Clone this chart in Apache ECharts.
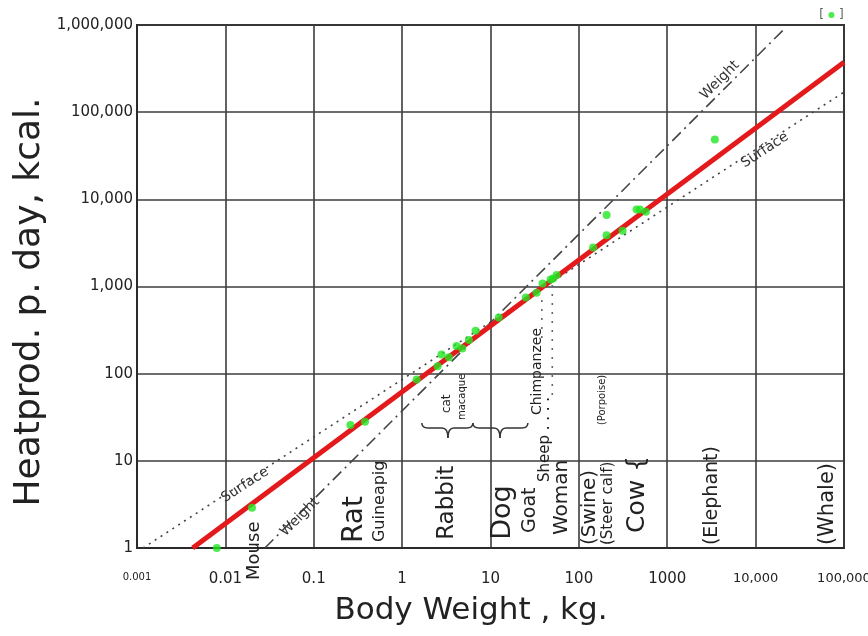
<!DOCTYPE html>
<html><head><meta charset="utf-8">
<script src="https://cdn.jsdelivr.net/npm/echarts@6/dist/echarts.min.js"></script>
<style>html,body{margin:0;padding:0;background:#fff}#c{width:868px;height:636px}</style>
</head><body><div id="c"></div>
<script>
// ---- tick labels ----
const xTickLabels = ['0.001', '0.01', '0.1', '1', '10', '100', '1000', '10,000', '100,000'];
const yTickLabels = ['1', '10', '100', '1,000', '10,000', '100,000', '1,000,000'];

// ---- measured animals (body weight kg, heat production kcal/day) ----
const animalKg   = [0.008, 0.02, 0.26, 0.38, 1.46, 2.52, 2.79, 3.38, 4.13, 4.79, 5.7, 6.78, 12.4, 25.1, 33.2, 38.8, 47.9, 51, 56, 145, 206, 206, 312, 449, 490, 573, 3455];
const animalKcal = [1, 2.9, 25.7, 28.1, 86, 122, 166, 154, 207, 195, 243, 311, 442, 750, 847, 1086, 1206, 1238, 1352, 2807, 3884, 6590, 4354, 7660, 7660, 7190, 48600];
const whaleKg   = [72100];
const whaleKcal = [1300000];

// ---- reference lines ----
const kleiberKg   = [0.00427, 100000];
const kleiberKcal = [1, 374000];
const surfaceKg   = [0.00117, 100000];
const surfaceKcal = [1, 170000];
const weightKg    = [0.028, 20400];
const weightKcal  = [1, 871000];
const leaderAKg   = [50, 50];
const leaderAKcal = [1038, 50];
const leaderBKg   = [38.1, 38.1];
const leaderBKcal = [698, 213];

// ---- species labels (text, anchor kg, anchor kcal) ----
const speciesText = ['Mouse', 'Rat', 'Guineapig', 'Rabbit', 'Dog', 'Goat', 'Sheep . . . .', 'Woman', 'Chimpanzee', 'cat', 'macaque', '(Swine)', '(Steer calf)', '(Porpoise)', 'Cow {', '(Elephant)', '(Whale)'];
const speciesKg   = [0.0211, 0.292, 0.561, 3.21, 13.8, 27.9, 41.2, 64.2, 33.5, 3.21, 4.75, 133, 213, 187, 465, 3199, 65600];
const speciesKcal = [0.43, 1.14, 1.17, 1.24, 1.24, 1.49, 5.71, 1.41, 33.5, 35.3, 29.4, 1.08, 1.08, 25.7, 1.49, 1.08, 1.08];
const speciesSize = [18, 28, 16, 23, 27, 19, 15, 20, 14, 12, 10, 20, 15, 10, 25, 19, 21];

// line labels
const lineText = ['Surface', 'Weight', 'Weight', 'Surface'];
const lineKg   = [0.0167, 0.0698, 3936, 12700];
const lineKcal = [5.28, 2.27, 232800, 36650];
const lineRef  = ['surface', 'weight', 'weight', 'surface'];

// braces (x left, dip, right in kg; top, level, dip in kcal)
const braceKg   = [[1.67, 3.30, 6.32], [6.32, 12.8, 26.5]];
const braceKcal = [27.1, 23.8, 18.3];

const FONT = 'DejaVu Sans';
const zip = (a, b) => a.map((v, i) => [v, b[i]]);

const chart = echarts.init(document.getElementById('c'), null, {renderer: 'canvas'});
const idx = v => Math.round(Math.log10(v));

chart.setOption({
  animation: false,
  backgroundColor: '#fff',
  grid: {left: 137, right: 24, top: 25, bottom: 88, show: true, borderColor: '#2a2a2a', borderWidth: 2,
         containLabel: false, outerBoundsMode: 'none'},
  xAxis: {
    type: 'log', logBase: 10, min: 0.001, max: 100000,
    axisLine: {show: true, lineStyle: {color: '#2a2a2a', width: 2}},
    axisTick: {show: false},
    splitLine: {show: true, lineStyle: {color: '#3c3c3c', width: 1.6}},
    axisLabel: {
      margin: 24, color: '#222', fontFamily: FONT, fontSize: 15,
      showMinLabel: true, showMaxLabel: true,
      formatter: v => {
        const i = idx(v) + 3;
        const t = xTickLabels[i];
        if (i === 0) return '{s|' + t + '}';
        if (i >= 7) return '{m|' + t + '}';
        return t;
      },
      rich: {s: {fontSize: 10, fontFamily: FONT, color: '#222', padding: [0, 0, 8, 0]},
             m: {fontSize: 13, fontFamily: FONT, color: '#222'}}
    }
  },
  yAxis: {
    type: 'log', logBase: 10, min: 1, max: 1000000,
    axisLine: {show: true, lineStyle: {color: '#2a2a2a', width: 2}},
    axisTick: {show: false},
    splitLine: {show: true, lineStyle: {color: '#3c3c3c', width: 1.6}},
    axisLabel: {
      margin: 4, color: '#222', fontFamily: FONT, fontSize: 15,
      showMinLabel: true, showMaxLabel: true,
      formatter: v => yTickLabels[idx(v)]
    }
  },
  series: [
    {type: 'line', name: 'surface', data: zip(surfaceKg, surfaceKcal), symbol: 'none',
     lineStyle: {color: '#444', width: 1.6, type: [2, 5]}, z: 2},
    {type: 'line', name: 'weight', data: zip(weightKg, weightKcal), symbol: 'none',
     lineStyle: {color: '#444', width: 1.6, type: [12, 5, 2, 5]}, z: 2},
    {type: 'line', data: zip(leaderAKg, leaderAKcal), symbol: 'none',
     lineStyle: {color: '#666', width: 1.6, type: [2, 7]}, z: 2},
    {type: 'line', data: zip(leaderBKg, leaderBKcal), symbol: 'none',
     lineStyle: {color: '#666', width: 1.6, type: [2, 7]}, z: 2},
    {type: 'line', name: 'kleiber', data: zip(kleiberKg, kleiberKcal), symbol: 'none',
     lineStyle: {color: '#e3191b', width: 5}, z: 3},
    {type: 'scatter', data: zip(animalKg, animalKcal), symbol: 'circle', symbolSize: 8,
     itemStyle: {color: '#22e622'}, z: 4},
    {type: 'scatter', data: zip(whaleKg, whaleKcal), symbol: 'circle', symbolSize: 6, clip: false,
     itemStyle: {color: '#22e622'}, z: 4,
     label: {show: true, position: 'inside', formatter: '[    ]', color: '#333', fontSize: 12, fontFamily: FONT}}
  ]
});

function px(kg, kcal) { return chart.convertToPixel({gridIndex: 0}, [kg, kcal]); }

const graphics = [];
speciesText.forEach((t, i) => {
  const p = px(speciesKg[i], speciesKcal[i]);
  graphics.push({type: 'text', x: p[0], y: p[1], rotation: Math.PI / 2, z: 10,
    style: {text: t, fontSize: speciesSize[i], fontFamily: FONT, fill: '#222', align: 'left', verticalAlign: 'middle'}});
});

const refLines = {surface: [surfaceKg, surfaceKcal], weight: [weightKg, weightKcal]};
lineText.forEach((t, i) => {
  const L = refLines[lineRef[i]];
  const a = px(L[0][0], L[1][0]), b = px(L[0][1], L[1][1]);
  const ang = Math.atan2(-(b[1] - a[1]), b[0] - a[0]);
  const p = px(lineKg[i], lineKcal[i]);
  graphics.push({type: 'text', x: p[0], y: p[1], rotation: ang, z: 10,
    style: {text: t, fontSize: 14, fontFamily: FONT, fill: '#333', align: 'center', verticalAlign: 'middle'}});
});

const braceStyle = {stroke: '#333', lineWidth: 1.5, fill: null};
braceKg.forEach(b => {
  const l = px(b[0], braceKcal[0]), m = px(b[1], braceKcal[1]), r = px(b[2], braceKcal[0]);
  const yT = l[1], yM = m[1], yD = px(b[1], braceKcal[2])[1];
  const c = 6;
  graphics.push({type: 'bezierCurve', z: 10, style: braceStyle,
    shape: {x1: l[0], y1: yT, cpx1: l[0], cpy1: yM, x2: l[0] + c, y2: yM}});
  graphics.push({type: 'line', z: 10, style: braceStyle,
    shape: {x1: l[0] + c, y1: yM, x2: m[0] - c, y2: yM}});
  graphics.push({type: 'bezierCurve', z: 10, style: braceStyle,
    shape: {x1: m[0] - c, y1: yM, cpx1: m[0], cpy1: yM, x2: m[0], y2: yD}});
  graphics.push({type: 'bezierCurve', z: 10, style: braceStyle,
    shape: {x1: m[0], y1: yD, cpx1: m[0], cpy1: yM, x2: m[0] + c, y2: yM}});
  graphics.push({type: 'line', z: 10, style: braceStyle,
    shape: {x1: m[0] + c, y1: yM, x2: r[0] - c, y2: yM}});
  graphics.push({type: 'bezierCurve', z: 10, style: braceStyle,
    shape: {x1: r[0] - c, y1: yM, cpx1: r[0], cpy1: yM, x2: r[0], y2: yT}});
});

graphics.push({type: 'text', x: 471, y: 611, z: 10,
  style: {text: 'Body Weight , kg.', fontSize: 31, fontFamily: FONT, fill: '#222', align: 'center', verticalAlign: 'middle'}});
graphics.push({type: 'text', x: 30, y: 302, rotation: Math.PI / 2, z: 10,
  style: {text: 'Heatprod. p. day, kcal.', fontSize: 36, fontFamily: FONT, fill: '#222', align: 'center', verticalAlign: 'middle'}});

chart.setOption({graphic: graphics});
</script>
</body></html>
